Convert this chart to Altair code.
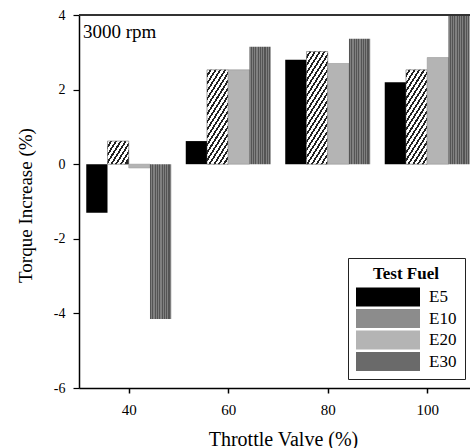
import altair as alt
import pandas as pd

# ---- data ----
throttle = [40, 60, 80, 100]
fuels = ["E5", "E10", "E20", "E30"]
e5 = [-1.3, 0.62, 2.8, 2.2]
e10 = [0.62, 2.53, 3.02, 2.53]
e20 = [-0.1, 2.53, 2.7, 2.86]
e30 = [-4.15, 3.15, 3.36, 4.0]
x_ticks = [40, 60, 80, 100]
y_ticks = [-6, -5.5, -5, -4.5, -4, -3.5, -3, -2.5, -2, -1.5, -1, -0.5,
           0, 0.5, 1, 1.5, 2, 2.5, 3, 3.5, 4]
annotation = ["3000 rpm"]

# ---- layout ----
W, H = 391, 373
X_DOM = [30, 108.6]
Y_DOM = [-6, 4]
BW = 4.27                      # bar width in x units
PX_X = W / (X_DOM[1] - X_DOM[0])
PX_Y = H / (Y_DOM[1] - Y_DOM[0])
FONT = "Liberation Serif"

series = [e5, e10, e20, e30]
rows = []
for i, f in enumerate(fuels):
    for t, v in zip(throttle, series[i]):
        rows.append({"Throttle": t, "Fuel": f, "Idx": i, "Value": v})
df = pd.DataFrame(rows)


def hatch_gradient(value, period_px=4.8, slope=1.6, dark=0.42):
    """Diagonal '/' hatching drawn with a striped linear gradient."""
    w = BW * PX_X
    h = abs(value) * PX_Y
    k = h / (slope * w)
    p = period_px / (w * (1 + k * k))
    stops = []
    t = 0.0
    while t < 1.0:
        a = min(t + p * (1 - dark), 1.0)
        b = min(t + p, 1.0)
        stops += [{"offset": t, "color": "white"}, {"offset": a, "color": "white"},
                  {"offset": a, "color": "#222222"}, {"offset": b, "color": "#222222"}]
        t += p
    return {"gradient": "linear", "x1": 0, "y1": 0, "x2": 1, "y2": k, "stops": stops}


def stripe_gradient(n=12, c1="#545454", c2="#808080"):
    stops = []
    for j in range(n):
        a = j / n
        m = (j + 0.5) / n
        b = (j + 1) / n
        stops += [{"offset": a, "color": c1}, {"offset": m, "color": c1},
                  {"offset": m, "color": c2}, {"offset": b, "color": c2}]
    return {"gradient": "linear", "x1": 0, "y1": 0, "x2": 1, "y2": 0, "stops": stops}


x_axis = alt.Axis(
    values=x_ticks, title="Throttle Valve (%)", grid=False,
    tickSize=5, tickWidth=1.5, tickColor="black", domainColor="black", domainWidth=1.5,
    labelFont=FONT, labelFontSize=15, labelColor="black", labelPadding=9,
    labelAngle=0, titleFont=FONT, titleFontSize=20, titleFontWeight="normal",
    titleColor="black", titleX=204, titleY=51, titleAlign="center",
    titleBaseline="middle",
)
y_axis = alt.Axis(
    values=y_ticks, title="Torque Increase (%)", grid=False,
    labelExpr="datum.value % 2 == 0 ? toString(datum.value) : ''",
    tickSize=6, tickWidth=1.2, tickColor="black", domainColor="black", domainWidth=1.5,
    labelFont=FONT, labelFontSize=14, labelColor="black", labelPadding=8,
    titleFont=FONT, titleFontSize=19, titleFontWeight="normal",
    titleColor="black", titleX=-54, titleY=190, titleAlign="center",
    titleBaseline="middle", titleAngle=270,
)

xs = alt.X("xs:Q", scale=alt.Scale(domain=X_DOM, nice=False, zero=False), axis=x_axis)
ys = alt.Y("Value:Q", scale=alt.Scale(domain=Y_DOM, nice=False), axis=y_axis)

base = alt.Chart(df).transform_calculate(
    xs=f"datum.Throttle - 2*{BW} + datum.Idx*{BW}",
    xe=f"datum.Throttle - {BW} + datum.Idx*{BW}",
)

legend = alt.Legend(
    title="Test Fuel", orient="none", legendX=269, legendY=243,
    direction="vertical", fillColor="white", strokeColor="#222222",
    padding=8, titleFont=FONT, titleFontSize=17, titleFontWeight="bold",
    titleColor="black", titleAnchor="middle", titlePadding=4,
    labelFont=FONT, labelFontSize=17, labelColor="black", labelOffset=31,
    symbolType="M-3.2,-0.95L3.2,-0.95L3.2,0.95L-3.2,0.95Z", symbolSize=400,
    symbolOffset=22, symbolStrokeWidth=0, symbolOpacity=1, rowPadding=1.5,
)

e5_layer = base.transform_filter("datum.Fuel == 'E5'").mark_bar(opacity=1).encode(
    x=xs, x2="xe:Q", y=ys, y2=alt.datum(0),
    color=alt.Color("Fuel:N", scale=alt.Scale(domain=fuels,
                    range=["#000000", "#8c8c8c", "#b4b4b4", "#6a6a6a"]), legend=legend),
)

e10_layers = []
for t, v in zip(throttle, e10):
    e10_layers.append(
        base.transform_filter(f"datum.Fuel == 'E10' && datum.Throttle == {t}")
        .mark_bar(color=hatch_gradient(v), stroke="#444444", strokeWidth=0.5, opacity=1)
        .encode(x=xs, x2="xe:Q", y=ys, y2=alt.datum(0))
    )

e20_layer = base.transform_filter("datum.Fuel == 'E20'").mark_bar(
    color="#b4b4b4", stroke="#999999", strokeWidth=0.6, opacity=1
).encode(x=xs, x2="xe:Q", y=ys, y2=alt.datum(0))

e30_layer = base.transform_filter("datum.Fuel == 'E30'").mark_bar(
    color=stripe_gradient(), opacity=1
).encode(x=xs, x2="xe:Q", y=ys, y2=alt.datum(0))

top_line = alt.Chart(df).mark_rule(color="#333333", strokeWidth=1.5).encode(
    y=alt.datum(Y_DOM[1])
)

txt = alt.Chart(pd.DataFrame({"label": annotation})).mark_text(
    align="left", baseline="middle", font=FONT, fontSize=19, color="black"
).encode(x=alt.datum(30.8), y=alt.datum(3.55), text="label:N")

chart = alt.layer(
    e5_layer, *e10_layers, e20_layer, e30_layer, top_line, txt
).properties(
    width=W, height=H,
    padding={"left": 79, "top": 15, "right": 0, "bottom": 60},
    autosize=alt.AutoSizeParams(type="none"),
    background="white",
).configure_view(stroke=None)

chart.save("out.html", embed_options={"renderer": "svg", "actions": False})
